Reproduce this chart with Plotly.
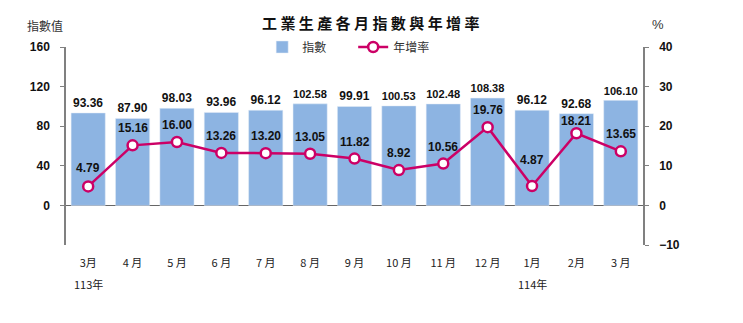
import plotly.graph_objects as go

months = ["3月", "4 月", "5 月", "6 月", "7 月", "8 月", "9 月", "10 月", "11 月", "12 月", "1月", "2月", "3 月"]
years = ["113年", "", "", "", "", "", "", "", "", "", "114年", "", ""]
index_vals = [93.36, 87.90, 98.03, 93.96, 96.12, 102.58, 99.91, 100.53, 102.48, 108.38, 96.12, 92.68, 106.10]
yoy_vals = [4.79, 15.16, 16.00, 13.26, 13.20, 13.05, 11.82, 8.92, 10.56, 19.76, 4.87, 18.21, 13.65]
# vertical offset (px) of each growth-rate label above its marker
label_shift = [18, 17, 17, 17, 17, 17, 17, 17, 17, 17, 26, 12, 17]

x = list(range(len(months)))

BAR = "#8DB4E2"
LINE = "#CC0066"
FONT = "Liberation Sans"
CJK = "Noto Sans CJK TC"
title = "工業生產各月指數與年增率"

fig = go.Figure()
fig.add_trace(go.Bar(
    x=x, y=index_vals, name="指數", marker_color=BAR, width=0.77,
    text=[f"{v:.2f}" for v in index_vals], textposition="outside",
    textfont=dict(family=FONT, size=12, color="#111", weight="bold"),
    cliponaxis=False,
))
fig.add_trace(go.Scatter(
    x=x, y=yoy_vals, name="年增率", yaxis="y2", mode="lines+markers",
    line=dict(color=LINE, width=2.5),
    marker=dict(size=10, color="white", line=dict(color=LINE, width=2.5)),
))
for xi, v, s in zip(x, yoy_vals, label_shift):
    fig.add_annotation(x=xi, y=v, xref="x", yref="y2", text=f"{v:.2f}",
                       showarrow=False, yshift=s,
                       font=dict(family=FONT, size=12, color="#111", weight="bold"))
for xi, yr in zip(x, years):
    if yr:
        fig.add_annotation(x=xi, y=0, xref="x", yref="paper", text=yr,
                           showarrow=False, yanchor="top", yshift=-29,
                           font=dict(family=CJK, size=11, color="#222"))

fig.add_annotation(x=0.527, y=1.0, xref="paper", yref="paper", text=" ".join(title),
                   showarrow=False, yanchor="middle", yshift=25,
                   font=dict(family=CJK, size=15, color="#111", weight="bold"))
fig.add_annotation(x=0, y=1, xref="paper", yref="paper", text="指數值", showarrow=False,
                   xanchor="center", yanchor="middle", xshift=-21, yshift=22,
                   font=dict(family=CJK, size=12, color="#333"))
fig.add_annotation(x=1, y=1, xref="paper", yref="paper", text="%", showarrow=False,
                   xanchor="center", yanchor="middle", xshift=15, yshift=23,
                   font=dict(family=FONT, size=13, color="#333"))

fig.update_layout(
    width=743, height=323,
    margin=dict(l=66, r=100, t=47, b=78),
    plot_bgcolor="white", paper_bgcolor="white",
    showlegend=True,
    legend=dict(orientation="h", x=0.34, xanchor="left", y=1.0, yanchor="middle",
                font=dict(family=CJK, size=12, color="#333"), itemwidth=30,
                entrywidth=46, bgcolor="rgba(0,0,0,0)"),
    xaxis=dict(range=[-0.5, 12.5], tickmode="array", tickvals=x, ticktext=months,
               showline=False, ticks="", ticklabelstandoff=10,
               tickfont=dict(family=CJK, size=11, color="#222"),
               showgrid=False, zeroline=False),
    yaxis=dict(range=[-40, 160], tickvals=[0, 40, 80, 120, 160], showline=True,
               linecolor="#808080", linewidth=1.5, ticks="outside", ticklen=4,
               tickcolor="#808080", showgrid=False, zeroline=True, zerolinecolor="#666",
               zerolinewidth=1.2, ticklabelstandoff=8,
               tickfont=dict(family=FONT, size=12, color="#111", weight="bold")),
    yaxis2=dict(range=[-10, 40], tickvals=[-10, 0, 10, 20, 30, 40], overlaying="y",
                side="right", showline=True, linecolor="#808080", linewidth=1.5,
                ticks="outside", ticklen=4, tickcolor="#808080", showgrid=False,
                zeroline=False, ticklabelstandoff=8,
                tickfont=dict(family=FONT, size=12, color="#111", weight="bold")),
)

fig.write_html("out.html")
